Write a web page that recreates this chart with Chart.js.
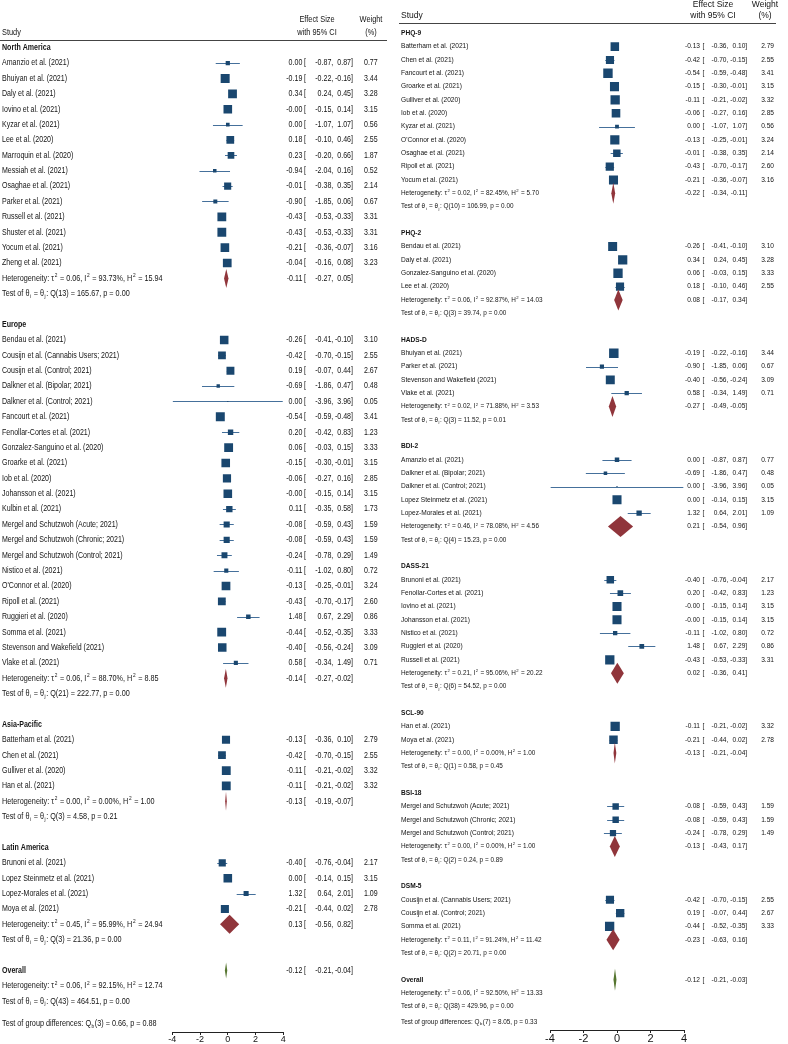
<!DOCTYPE html>
<html>
<head>
<meta charset="utf-8">
<script src="https://cdn.jsdelivr.net/npm/chart.js@4.4.1/dist/chart.umd.min.js"></script>
<style>
  body { margin: 0; background: #fff; }
  .wrap { display: flex; width: 788px; height: 1044px; }
  .pane { width: 394px; height: 1044px; }
</style>
</head>
<body>
<div class="wrap">
  <div class="pane"><canvas id="regionChart" width="394" height="1044"></canvas></div>
  <div class="pane"><canvas id="scaleChart" width="394" height="1044"></canvas></div>
</div>
<script>
const xTicks = [-4, -2, 0, 2, 4];

// study rows: [label, effect, lower, upper, weight %]
const regionNames = ['North America', 'Europe', 'Asia-Pacific', 'Latin America'];
const northAmerica = [
    ['Amanzio et al. (2021)', 0.00, -0.87, 0.87, 0.77],
    ['Bhuiyan et al. (2021)', -0.19, -0.22, -0.16, 3.44],
    ['Daly et al. (2021)', 0.34, 0.24, 0.45, 3.28],
    ['Iovino et al. (2021)', -0.00, -0.15, 0.14, 3.15],
    ['Kyzar et al. (2021)', 0.00, -1.07, 1.07, 0.56],
    ['Lee et al. (2020)', 0.18, -0.10, 0.46, 2.55],
    ['Marroquin et al. (2020)', 0.23, -0.20, 0.66, 1.87],
    ['Messiah et al. (2021)', -0.94, -2.04, 0.16, 0.52],
    ['Osaghae et al. (2021)', -0.01, -0.38, 0.35, 2.14],
    ['Parker et al. (2021)', -0.90, -1.85, 0.06, 0.67],
    ['Russell et al. (2021)', -0.43, -0.53, -0.33, 3.31],
    ['Shuster et al. (2021)', -0.43, -0.53, -0.33, 3.31],
    ['Yocum et al. (2021)', -0.21, -0.36, -0.07, 3.16],
    ['Zheng et al. (2021)', -0.04, -0.16, 0.08, 3.23]
];
const europe = [
    ['Bendau et al. (2021)', -0.26, -0.41, -0.10, 3.10],
    ['Cousijn et al. (Cannabis Users; 2021)', -0.42, -0.70, -0.15, 2.55],
    ['Cousijn et al. (Control; 2021)', 0.19, -0.07, 0.44, 2.67],
    ['Dalkner et al. (Bipolar; 2021)', -0.69, -1.86, 0.47, 0.48],
    ['Dalkner et al. (Control; 2021)', 0.00, -3.96, 3.96, 0.05],
    ['Fancourt et al. (2021)', -0.54, -0.59, -0.48, 3.41],
    ['Fenollar-Cortes et al. (2021)', 0.20, -0.42, 0.83, 1.23],
    ['Gonzalez-Sanguino et al. (2020)', 0.06, -0.03, 0.15, 3.33],
    ['Groarke et al. (2021)', -0.15, -0.30, -0.01, 3.15],
    ['Iob et al. (2020)', -0.06, -0.27, 0.16, 2.85],
    ['Johansson et al. (2021)', -0.00, -0.15, 0.14, 3.15],
    ['Kulbin et al. (2021)', 0.11, -0.35, 0.58, 1.73],
    ['Mergel and Schutzwoh (Acute; 2021)', -0.08, -0.59, 0.43, 1.59],
    ['Mergel and Schutzwoh (Chronic; 2021)', -0.08, -0.59, 0.43, 1.59],
    ['Mergel and Schutzwoh (Control; 2021)', -0.24, -0.78, 0.29, 1.49],
    ['Nistico et al. (2021)', -0.11, -1.02, 0.80, 0.72],
    ["O'Connor et al. (2020)", -0.13, -0.25, -0.01, 3.24],
    ['Ripoll et al. (2021)', -0.43, -0.70, -0.17, 2.60],
    ['Ruggieri et al. (2020)', 1.48, 0.67, 2.29, 0.86],
    ['Somma et al. (2021)', -0.44, -0.52, -0.35, 3.33],
    ['Stevenson and Wakefield (2021)', -0.40, -0.56, -0.24, 3.09],
    ['Vlake et al. (2021)', 0.58, -0.34, 1.49, 0.71]
];
const asiaPacific = [
    ['Batterham et al. (2021)', -0.13, -0.36, 0.10, 2.79],
    ['Chen et al. (2021)', -0.42, -0.70, -0.15, 2.55],
    ['Gulliver et al. (2020)', -0.11, -0.21, -0.02, 3.32],
    ['Han et al. (2021)', -0.11, -0.21, -0.02, 3.32]
];
const latinAmerica = [
    ['Brunoni et al. (2021)', -0.40, -0.76, -0.04, 2.17],
    ['Lopez Steinmetz et al. (2021)', 0.00, -0.14, 0.15, 3.15],
    ['Lopez-Morales et al. (2021)', 1.32, 0.64, 2.01, 1.09],
    ['Moya et al. (2021)', -0.21, -0.44, 0.02, 2.78]
];
const regionPooled = [[-0.11, -0.27, 0.05], [-0.14, -0.27, -0.02], [-0.13, -0.19, -0.07], [0.13, -0.56, 0.82]];
const regionHet = [[0.06, 93.73, 15.94], [0.06, 88.70, 8.85], [0.00, 0.00, 1.00], [0.45, 95.99, 24.94]];
const regionQ = [[13, 165.67, 0.00], [21, 222.77, 0.00], [3, 4.58, 0.21], [3, 21.36, 0.00]];
const regionOverall = [-0.12, -0.21, -0.04];
const regionOverallHet = [0.06, 92.15, 12.74];
const regionOverallQ = [43, 464.51, 0.00];
const regionDiff = [3, 0.66, 0.88];

const scaleNames = ['PHQ-9', 'PHQ-2', 'HADS-D', 'BDI-2', 'DASS-21', 'SCL-90', 'BSI-18', 'DSM-5'];
const phq9 = [
    ['Batterham et al. (2021)', -0.13, -0.36, 0.10, 2.79],
    ['Chen et al. (2021)', -0.42, -0.70, -0.15, 2.55],
    ['Fancourt et al. (2021)', -0.54, -0.59, -0.48, 3.41],
    ['Groarke et al. (2021)', -0.15, -0.30, -0.01, 3.15],
    ['Gulliver et al. (2020)', -0.11, -0.21, -0.02, 3.32],
    ['Iob et al. (2020)', -0.06, -0.27, 0.16, 2.85],
    ['Kyzar et al. (2021)', 0.00, -1.07, 1.07, 0.56],
    ["O'Connor et al. (2020)", -0.13, -0.25, -0.01, 3.24],
    ['Osaghae et al. (2021)', -0.01, -0.38, 0.35, 2.14],
    ['Ripoll et al. (2021)', -0.43, -0.70, -0.17, 2.60],
    ['Yocum et al. (2021)', -0.21, -0.36, -0.07, 3.16]
];
const phq2 = [
    ['Bendau et al. (2021)', -0.26, -0.41, -0.10, 3.10],
    ['Daly et al. (2021)', 0.34, 0.24, 0.45, 3.28],
    ['Gonzalez-Sanguino et al. (2020)', 0.06, -0.03, 0.15, 3.33],
    ['Lee et al. (2020)', 0.18, -0.10, 0.46, 2.55]
];
const hadsD = [
    ['Bhuiyan et al. (2021)', -0.19, -0.22, -0.16, 3.44],
    ['Parker et al. (2021)', -0.90, -1.85, 0.06, 0.67],
    ['Stevenson and Wakefield (2021)', -0.40, -0.56, -0.24, 3.09],
    ['Vlake et al. (2021)', 0.58, -0.34, 1.49, 0.71]
];
const bdi2 = [
    ['Amanzio et al. (2021)', 0.00, -0.87, 0.87, 0.77],
    ['Dalkner et al. (Bipolar; 2021)', -0.69, -1.86, 0.47, 0.48],
    ['Dalkner et al. (Control; 2021)', 0.00, -3.96, 3.96, 0.05],
    ['Lopez Steinmetz et al. (2021)', 0.00, -0.14, 0.15, 3.15],
    ['Lopez-Morales et al. (2021)', 1.32, 0.64, 2.01, 1.09]
];
const dass21 = [
    ['Brunoni et al. (2021)', -0.40, -0.76, -0.04, 2.17],
    ['Fenollar-Cortes et al. (2021)', 0.20, -0.42, 0.83, 1.23],
    ['Iovino et al. (2021)', -0.00, -0.15, 0.14, 3.15],
    ['Johansson et al. (2021)', -0.00, -0.15, 0.14, 3.15],
    ['Nistico et al. (2021)', -0.11, -1.02, 0.80, 0.72],
    ['Ruggieri et al. (2020)', 1.48, 0.67, 2.29, 0.86],
    ['Russell et al. (2021)', -0.43, -0.53, -0.33, 3.31]
];
const scl90 = [
    ['Han et al. (2021)', -0.11, -0.21, -0.02, 3.32],
    ['Moya et al. (2021)', -0.21, -0.44, 0.02, 2.78]
];
const bsi18 = [
    ['Mergel and Schutzwoh (Acute; 2021)', -0.08, -0.59, 0.43, 1.59],
    ['Mergel and Schutzwoh (Chronic; 2021)', -0.08, -0.59, 0.43, 1.59],
    ['Mergel and Schutzwoh (Control; 2021)', -0.24, -0.78, 0.29, 1.49]
];
const dsm5 = [
    ['Cousijn et al. (Cannabis Users; 2021)', -0.42, -0.70, -0.15, 2.55],
    ['Cousijn et al. (Control; 2021)', 0.19, -0.07, 0.44, 2.67],
    ['Somma et al. (2021)', -0.44, -0.52, -0.35, 3.33]
];
const scalePooled = [[-0.22, -0.34, -0.11], [0.08, -0.17, 0.34], [-0.27, -0.49, -0.05], [0.21, -0.54, 0.96],
    [0.02, -0.36, 0.41], [-0.13, -0.21, -0.04], [-0.13, -0.43, 0.17], [-0.23, -0.63, 0.16]];
const scaleHet = [[0.02, 82.45, 5.70], [0.06, 92.87, 14.03], [0.02, 71.88, 3.53], [0.46, 78.08, 4.56],
    [0.21, 95.06, 20.22], [0.00, 0.00, 1.00], [0.00, 0.00, 1.00], [0.11, 91.24, 11.42]];
const scaleQ = [[10, 106.99, 0.00], [3, 39.74, 0.00], [3, 11.52, 0.01], [4, 15.23, 0.00],
    [6, 54.52, 0.00], [1, 0.58, 0.45], [2, 0.24, 0.89], [2, 20.71, 0.00]];
const scaleOverall = [-0.12, -0.21, -0.03];
const scaleOverallHet = [0.06, 92.50, 13.33];
const scaleOverallQ = [38, 429.96, 0.00];
const scaleDiff = [7, 8.05, 0.33];

const NAVY = '#1a476f';
const CI_BLUE = '#45709b';
const MAROON = '#90353b';
const GREEN = '#55752f';
const INK = '#141414';

function hasFont(name) {
    const c = document.createElement('canvas').getContext('2d');
    c.font = `20px '${name}', monospace`;
    const a = c.measureText('Heterogeneity abc 0.12').width;
    c.font = '20px monospace';
    const b = c.measureText('Heterogeneity abc 0.12').width;
    return a !== b;
}
const narrowOk = hasFont('Liberation Sans Narrow');

function fmt(v) {
    return (Object.is(v, -0) ? '-' : '') + v.toFixed(2);
}

function buildRows(names, groups, pooled, het, q, overall, overallHet, overallQ, diff, diffGap) {
    const rows = [];
    let r = 0;
    names.forEach((name, gi) => {
        rows.push({ kind: 'group', r: r++, label: name });
        groups[gi].forEach(s => {
            rows.push({ kind: 'study', r: r++, label: s[0], es: s[1], lo: s[2], hi: s[3], wt: s[4] });
        });
        rows.push({ kind: 'het', r: r++, es: pooled[gi][0], lo: pooled[gi][1], hi: pooled[gi][2], het: het[gi] });
        rows.push({ kind: 'test', r: r++, q: q[gi] });
        r++; // blank line between groups
    });
    rows.push({ kind: 'overall', r: r++, label: 'Overall', es: overall[0], lo: overall[1], hi: overall[2] });
    rows.push({ kind: 'het', r: r++, het: overallHet, plain: true });
    rows.push({ kind: 'test', r: r, q: overallQ });
    rows.push({ kind: 'diff', r: r + diffGap, q: diff });
    return rows;
}

function setFont(ctx, st, size, bold) {
    ctx.font = `${bold ? 'bold ' : ''}${size}px ${st.family}`;
}

function drawText(ctx, st, str, x, y, align, size, bold) {
    ctx.save();
    setFont(ctx, st, size || st.size, bold);
    ctx.textAlign = align || 'left';
    ctx.textBaseline = 'middle';
    ctx.translate(x, y);
    ctx.scale(st.sx, 1);
    ctx.fillText(str, 0, 0);
    ctx.restore();
}

// parts: [text, 0 normal | 1 superscript | -1 subscript]
function drawRich(ctx, st, parts, x, y) {
    ctx.save();
    ctx.textAlign = 'left';
    ctx.textBaseline = 'middle';
    ctx.translate(x, y);
    ctx.scale(st.sx * st.richSx, 1);
    let cx = 0;
    parts.forEach(([t, mode]) => {
        const size = mode ? st.size * 0.66 : st.size;
        setFont(ctx, st, size, false);
        const dy = mode === 1 ? -st.size * 0.33 : mode === -1 ? st.size * 0.28 : 0;
        if (mode) cx += st.size * 0.08;
        ctx.fillText(t, cx, dy);
        cx += ctx.measureText(t).width + (mode ? st.size * 0.08 : 0);
    });
    ctx.restore();
}

function hetParts(h) {
    return [['Heterogeneity: \u03C4', 0], ['2', 1], [` = ${fmt(h[0])}, I`, 0], ['2', 1],
        [` = ${h[1].toFixed(2)}%, H`, 0], ['2', 1], [` = ${fmt(h[2])}`, 0]];
}
function testParts(q) {
    return [['Test of \u03B8', 0], ['i', -1], [' = \u03B8', 0], ['j', -1],
        [`: Q(${q[0]}) = ${q[1].toFixed(2)}, p = ${q[2].toFixed(2)}`, 0]];
}
function diffParts(d) {
    return [['Test of group differences: Q', 0], ['b', -1], [`(${d[0]}) = ${d[1].toFixed(2)}, p = ${d[2].toFixed(2)}`, 0]];
}

function drawEffect(ctx, st, row, y) {
    drawText(ctx, st, fmt(row.es), st.estRight, y, 'right');
    drawText(ctx, st, '[', st.bracketX, y, 'left');
    drawText(ctx, st, fmt(row.lo), st.loRight, y, 'right');
    drawText(ctx, st, ',', st.loRight, y, 'left');
    drawText(ctx, st, fmt(row.hi), st.hiRight, y, 'right');
    drawText(ctx, st, ']', st.hiRight, y, 'left');
}

const forestMarks = {
    id: 'forestMarks',
    beforeDatasetsDraw(chart, args, opts) {
        const { ctx, scales: { x, y } } = chart;
        ctx.save();
        ctx.strokeStyle = CI_BLUE;
        ctx.lineWidth = 1;
        opts.rows.filter(r => r.kind === 'study').forEach(r => {
            const py = Math.round(y.getPixelForValue(r.r)) + 0.5;
            ctx.beginPath();
            ctx.moveTo(x.getPixelForValue(r.lo), py);
            ctx.lineTo(x.getPixelForValue(r.hi), py);
            ctx.stroke();
        });
        ctx.restore();
    },
    afterDatasetsDraw(chart, args, opts) {
        const { ctx, scales: { x, y } } = chart;
        const st = opts.st;
        ctx.save();
        opts.rows.forEach(r => {
            if (!((r.kind === 'het' && !r.plain) || r.kind === 'overall')) return;
            const h = (r.kind === 'overall' ? st.overallH : st.diamondH) / 2;
            const py = y.getPixelForValue(r.r);
            ctx.fillStyle = r.kind === 'overall' ? GREEN : MAROON;
            ctx.beginPath();
            ctx.moveTo(x.getPixelForValue(r.lo), py);
            ctx.lineTo(x.getPixelForValue(r.es), py - h);
            ctx.lineTo(x.getPixelForValue(r.hi), py);
            ctx.lineTo(x.getPixelForValue(r.es), py + h);
            ctx.closePath();
            ctx.fill();
        });
        ctx.restore();
    },
    afterDraw(chart, args, opts) {
        const { ctx, scales: { y } } = chart;
        const st = opts.st;
        const hd = st.head;
        ctx.save();
        ctx.fillStyle = INK;
        drawText(ctx, st, 'Study', st.labelX, hd.y2, 'left', hd.size);
        drawText(ctx, st, 'Effect Size', hd.esX, hd.y1, 'center', hd.size);
        drawText(ctx, st, 'with 95% CI', hd.esX, hd.y2, 'center', hd.size);
        drawText(ctx, st, 'Weight', hd.wtX, hd.y1, 'center', hd.size);
        drawText(ctx, st, '(%)', hd.wtX, hd.y2, 'center', hd.size);
        ctx.strokeStyle = '#444';
        ctx.lineWidth = 1;
        ctx.beginPath();
        ctx.moveTo(hd.lineX0, hd.lineY + 0.5);
        ctx.lineTo(hd.lineX1, hd.lineY + 0.5);
        ctx.stroke();

        opts.rows.forEach(r => {
            const py = y.getPixelForValue(r.r);
            if (r.kind === 'group' || r.kind === 'overall') {
                drawText(ctx, st, r.label, st.labelX, py, 'left', st.size, true);
                if (r.kind === 'overall') drawEffect(ctx, st, r, py);
            } else if (r.kind === 'study') {
                drawText(ctx, st, r.label, st.labelX, py, 'left');
                drawEffect(ctx, st, r, py);
                drawText(ctx, st, r.wt.toFixed(2), st.wtRight, py, 'right');
            } else if (r.kind === 'het') {
                drawRich(ctx, st, hetParts(r.het), st.labelX, py);
                if (!r.plain) drawEffect(ctx, st, r, py);
            } else if (r.kind === 'test') {
                drawRich(ctx, st, testParts(r.q), st.labelX, py);
            } else if (r.kind === 'diff') {
                drawRich(ctx, st, diffParts(r.q), st.labelX, py);
            }
        });
        ctx.restore();
    }
};

function makeForest(canvasId, rows, st) {
    const bottom = 1044 - 3 - st.tickSize;
    const yMax = st.yMin + (bottom - st.padTop) / st.rowH;
    const studies = rows.filter(r => r.kind === 'study');
    return new Chart(document.getElementById(canvasId), {
        type: 'scatter',
        data: {
            datasets: [{
                data: studies.map(s => ({ x: s.es, y: s.r, w: s.wt })),
                pointStyle: 'rect',
                pointRadius: c => st.squareK * Math.sqrt(c.raw.w) / Math.SQRT2,
                pointHoverRadius: c => st.squareK * Math.sqrt(c.raw.w) / Math.SQRT2,
                backgroundColor: NAVY,
                borderWidth: 0
            }]
        },
        options: {
            responsive: false,
            animation: false,
            events: [],
            layout: { padding: { left: st.padLeft, right: st.padRight, top: st.padTop, bottom: 0 } },
            plugins: {
                legend: { display: false },
                tooltip: { enabled: false },
                forestMarks: { rows, st }
            },
            scales: {
                x: {
                    type: 'linear',
                    min: -4,
                    max: 4,
                    afterBuildTicks: axis => { axis.ticks = xTicks.map(v => ({ value: v })); },
                    grid: { display: true, drawOnChartArea: false, drawTicks: true, tickLength: 3, color: '#222' },
                    border: { display: true, color: '#222', width: 1 },
                    ticks: {
                        color: INK,
                        padding: 0,
                        font: { family: st.tickFamily, size: st.tickSize, lineHeight: 1 }
                    }
                },
                y: { type: 'linear', reverse: true, min: st.yMin, max: yMax, display: false }
            }
        },
        plugins: [forestMarks]
    });
}

const leftStyle = {
    family: narrowOk ? "'Liberation Sans Narrow'" : "'Liberation Sans'",
    tickFamily: narrowOk ? 'Liberation Sans Narrow' : 'Liberation Sans',
    sx: narrowOk ? 1 : 0.82, richSx: 1.03,
    size: 8.6, tickSize: 9,
    padLeft: 172.3, padRight: 110.7, padTop: 40,
    yMin: -0.5, rowH: 15.38,
    labelX: 2, estRight: 302.3, bracketX: 304, loRight: 331.3, hiRight: 351, wtRight: 377.7,
    head: { size: 9, esX: 317, wtX: 371, y1: 20, y2: 32.3, lineY: 40, lineX0: 0, lineX1: 387 },
    squareK: 4.85, diamondH: 19, overallH: 16
};
const rightStyle = {
    family: "'Liberation Sans'",
    tickFamily: 'Liberation Sans',
    sx: 1, richSx: 0.97,
    size: 6.6, tickSize: 11,
    padLeft: 156, padRight: 104, padTop: 23.3,
    yMin: -0.75, rowH: 13.33,
    labelX: 7, estRight: 306, bracketX: 308.5, loRight: 332.5, hiRight: 351.3, wtRight: 380,
    head: { size: 8.5, esX: 319, wtX: 371, y1: 5, y2: 15.7, lineY: 23, lineX0: 5, lineX1: 382 },
    squareK: 5.1, diamondH: 21, overallH: 22
};

const regionRows = buildRows(regionNames, [northAmerica, europe, asiaPacific, latinAmerica],
    regionPooled, regionHet, regionQ, regionOverall, regionOverallHet, regionOverallQ, regionDiff, 1.45);
const scaleRows = buildRows(scaleNames, [phq9, phq2, hadsD, bdi2, dass21, scl90, bsi18, dsm5],
    scalePooled, scaleHet, scaleQ, scaleOverall, scaleOverallHet, scaleOverallQ, scaleDiff, 1.15);

makeForest('regionChart', regionRows, leftStyle);
makeForest('scaleChart', scaleRows, rightStyle);
</script>
</body>
</html>
